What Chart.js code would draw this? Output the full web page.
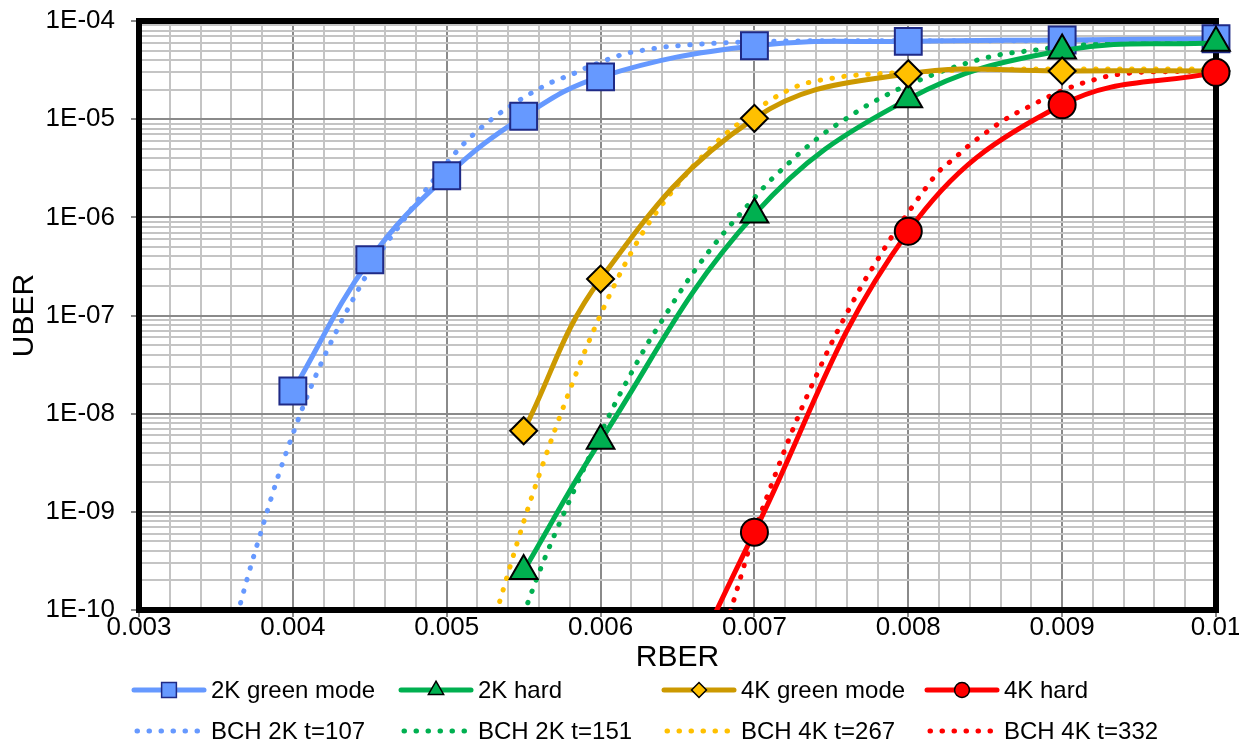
<!DOCTYPE html>
<html>
<head>
<meta charset="utf-8">
<title>UBER vs RBER</title>
<script src="https://cdn.jsdelivr.net/npm/chart.js@4.4.1/dist/chart.umd.min.js"></script>
<style>
    html, body { margin: 0; padding: 0; background: #fff; }
    #wrap { position: relative; width: 1239px; height: 745px; overflow: hidden; }
    #legend { position: absolute; left: 0; top: 0; width: 100%; height: 100%; pointer-events: none;
              font-family: "Liberation Sans", Arial, sans-serif; font-size: 24px; color: #000; }
    .item { position: absolute; display: flex; align-items: center; height: 28px; white-space: nowrap; }
    .item canvas { margin-right: 4px; }
</style>
</head>
<body>
<div id="wrap">
    <canvas id="uberChart" width="1239" height="745"></canvas>
    <div id="legend"></div>
</div>
<script>
// axis labels
const xTickLabels = ['0.003', '0.004', '0.005', '0.006', '0.007', '0.008', '0.009', '0.01'];
const yTickLabels = ['1E-10', '1E-09', '1E-08', '1E-07', '1E-06', '1E-05', '1E-04'];

// measured series (with markers)
const rberMeasured = [0.004, 0.0045, 0.005, 0.0055, 0.006, 0.007, 0.008, 0.009, 0.01];
const uber2kGreen = [1.7e-8, 3.7e-7, 2.65e-6, 1.07e-5, 2.7e-5, 5.6e-5, 6.2e-5, 6.4e-5, 6.6e-5];
const uber2kHard  = [null, null, null, 2.5e-10, 5.3e-9, 1.07e-6, 1.6e-5, 5.0e-5, 6.0e-5];
const uber4kGreen = [null, null, null, 6.7e-9, 2.35e-7, 1.02e-5, 2.9e-5, 3.1e-5, 3.1e-5];
const uber4kHard  = [null, null, null, null, 3e-13, 6.2e-10, 7.2e-7, 1.4e-5, 3.0e-5];

// BCH theoretical curves (dotted)
const rberBch107 = [0.0036, 0.0037, 0.0038, 0.0039, 0.004, 0.0041, 0.0042, 0.0043, 0.0044, 0.0045,
    0.0046, 0.0047, 0.0048, 0.0049, 0.005, 0.0051, 0.0052, 0.0053, 0.0054, 0.0055, 0.0056, 0.0057,
    0.0058, 0.0059, 0.006, 0.0061, 0.0062, 0.0063, 0.0064, 0.0065, 0.0066, 0.0068, 0.007, 0.0075,
    0.008, 0.009, 0.01];
const uberBch107 = [5.2e-11, 2.0e-10, 6.8e-10, 2.2e-9, 6.2e-9, 1.6e-8, 3.7e-8, 7.8e-8, 1.55e-7, 2.95e-7,
    5.2e-7, 8.5e-7, 1.41e-6, 2.24e-6, 3.55e-6, 5.4e-6, 7.6e-6, 1.02e-5, 1.32e-5, 1.66e-5, 2.04e-5, 2.45e-5,
    2.8e-5, 3.3e-5, 3.8e-5, 4.35e-5, 4.8e-5, 5.1e-5, 5.4e-5, 5.6e-5, 5.75e-5, 6.0e-5, 6.15e-5, 6.3e-5,
    6.3e-5, 6.3e-5, 6.3e-5];

const rberBch151 = [0.0055, 0.0056, 0.0057, 0.0058, 0.0059, 0.006, 0.0061, 0.0062, 0.0063, 0.0064,
    0.0065, 0.0066, 0.0067, 0.0068, 0.0069, 0.007, 0.0071, 0.0072, 0.0073, 0.0074, 0.0075, 0.0076,
    0.0077, 0.0078, 0.0079, 0.008, 0.0081, 0.0082, 0.0083, 0.0084, 0.0085, 0.0086, 0.0087, 0.0088,
    0.009, 0.0092, 0.0095, 0.01];
const uberBch151 = [9.1e-11, 2.4e-10, 5.8e-10, 1.32e-9, 2.95e-9, 6.3e-9, 1.32e-8, 2.6e-8, 5.0e-8, 8.9e-8,
    1.58e-7, 2.7e-7, 4.4e-7, 6.9e-7, 1.05e-6, 1.58e-6, 2.35e-6, 3.3e-6, 4.6e-6, 6.2e-6, 8.1e-6, 1.02e-5,
    1.29e-5, 1.58e-5, 1.9e-5, 2.25e-5, 2.6e-5, 3.0e-5, 3.4e-5, 3.8e-5, 4.2e-5, 4.55e-5, 4.8e-5, 5.0e-5,
    5.5e-5, 5.8e-5, 6.1e-5, 6.15e-5];

const rberBch267 = [0.0053, 0.0054, 0.0055, 0.0056, 0.0057, 0.0058, 0.0059, 0.006, 0.0061, 0.0062,
    0.0063, 0.0064, 0.0065, 0.0066, 0.0067, 0.0068, 0.0069, 0.007, 0.0071, 0.0072, 0.0073, 0.0074,
    0.0075, 0.0076, 0.0078, 0.008, 0.0085, 0.009, 0.01];
const uberBch267 = [7.1e-11, 2.4e-10, 7.9e-10, 2.35e-9, 6.6e-9, 1.74e-8, 4.4e-8, 1.02e-7, 2.2e-7, 4.4e-7,
    8.1e-7, 1.35e-6, 2.14e-6, 3.3e-6, 4.8e-6, 6.8e-6, 9.1e-6, 1.2e-5, 1.55e-5, 1.9e-5, 2.24e-5, 2.45e-5,
    2.6e-5, 2.75e-5, 2.9e-5, 3.0e-5, 3.2e-5, 3.25e-5, 3.25e-5];

const rberBch332 = [0.0068, 0.0069, 0.007, 0.0071, 0.0072, 0.0073, 0.0074, 0.0075, 0.0076, 0.0077,
    0.0078, 0.0079, 0.008, 0.0081, 0.0082, 0.0083, 0.0084, 0.0085, 0.0086, 0.0087, 0.0088, 0.0089,
    0.009, 0.0091, 0.0092, 0.0093, 0.0094, 0.0095, 0.0097, 0.01];
const uberBch332 = [5.6e-11, 1.9e-10, 6.3e-10, 1.7e-9, 4.4e-9, 1.07e-8, 2.4e-8, 5.2e-8, 1.05e-7, 2.05e-7,
    3.7e-7, 6.6e-7, 1.12e-6, 1.86e-6, 2.95e-6, 4.0e-6, 5.5e-6, 7.2e-6, 9.3e-6, 1.15e-5, 1.38e-5, 1.66e-5,
    1.95e-5, 2.24e-5, 2.5e-5, 2.75e-5, 2.9e-5, 3.0e-5, 3.05e-5, 3.1e-5];

const FONT = '"Liberation Sans", Arial, sans-serif';
const DOTS = [0.5, 11.5];

const toPoints = (xs, ys) => xs.map((x, i) => ({ x: x, y: ys[i] })).filter(p => p.y !== null);

function measuredSeries(label, ys, color, style, radius, fill, edge, order) {
    return {
        label: label,
        data: toPoints(rberMeasured, ys),
        borderColor: color,
        borderWidth: 5,
        tension: 0.4,
        pointStyle: style,
        pointRadius: radius,
        pointBackgroundColor: fill,
        pointBorderColor: edge,
        pointBorderWidth: 2,
        order: order
    };
}

function bchSeries(label, xs, ys, color, order) {
    return {
        label: label,
        data: toPoints(xs, ys),
        borderColor: color,
        borderWidth: 5,
        borderDash: DOTS,
        borderCapStyle: 'round',
        cubicInterpolationMode: 'monotone',
        pointRadius: 0,
        order: order
    };
}

const datasets = [
    measuredSeries('2K green mode', uber2kGreen, '#6699ff', 'rect', 19, '#6699ff', '#1f2a86', 4),
    measuredSeries('2K hard', uber2kHard, '#00b050', 'triangle', 16, '#00b050', '#000', 3),
    measuredSeries('4K green mode', uber4kGreen, '#cc9900', 'rectRot', 13.5, '#ffc000', '#000', 2),
    measuredSeries('4K hard', uber4kHard, '#ff0000', 'circle', 13.5, '#ff0000', '#000', 1),
    bchSeries('BCH 2K t=107', rberBch107, uberBch107, '#6699ff', 8),
    bchSeries('BCH 2K t=151', rberBch151, uberBch151, '#00b050', 7),
    bchSeries('BCH 4K t=267', rberBch267, uberBch267, '#ffc000', 6),
    bchSeries('BCH 4K t=332', rberBch332, uberBch332, '#ff0000', 5)
];
datasets.forEach(ds => { ds.clip = { left: 0, top: 20, right: 20, bottom: 0 }; });

const plotFrame = {
    id: 'plotFrame',
    beforeDatasetsDraw(chart) {
        const { ctx, chartArea: a } = chart;
        ctx.save();
        ctx.lineWidth = 6;
        ctx.strokeStyle = '#000';
        ctx.strokeRect(a.left, a.top, a.right - a.left, a.bottom - a.top);
        ctx.restore();
    }
};

const gridColor = ctx => (ctx.tick && ctx.tick.major) ? '#8a8a8a' : '#c4c4c4';
const tickColor = ctx => (ctx.tick && ctx.tick.major) ? '#8a8a8a' : 'rgba(0,0,0,0)';

const chart = new Chart(document.getElementById('uberChart'), {
    type: 'line',
    data: { datasets: datasets },
    plugins: [plotFrame],
    options: {
        responsive: false,
        animation: false,
        events: [],
        devicePixelRatio: 1,
        layout: { padding: { top: 17, right: 23, bottom: 69, left: 0 } },
        plugins: { legend: { display: false }, tooltip: { enabled: false } },
        scales: {
            x: {
                type: 'linear',
                min: 0.003,
                max: 0.01,
                afterBuildTicks: scale => {
                    const ticks = [];
                    for (let i = 0; i <= 35; i++) {
                        ticks.push({ value: Number((0.003 + i * 0.0002).toFixed(4)), major: i % 5 === 0 });
                    }
                    scale.ticks = ticks;
                },
                afterFit: scale => { scale.height = 66; },
                ticks: {
                    autoSkip: false,
                    maxRotation: 0,
                    padding: -5,
                    color: '#000',
                    font: { family: FONT, size: 26 },
                    callback: (value, index, ticks) =>
                        ticks[index].major ? xTickLabels[Math.round((value - 0.003) * 1000)] : ''
                },
                grid: { color: gridColor, lineWidth: 2, tickLength: 7, tickColor: tickColor },
                border: { display: false },
                title: { display: true, text: 'RBER', color: '#000', font: { family: FONT, size: 30 },
                         padding: { top: 0, bottom: 0 } }
            },
            y: {
                type: 'logarithmic',
                min: 1e-10,
                max: 1e-4,
                afterBuildTicks: scale => {
                    const ticks = [];
                    for (let e = -10; e <= -4; e++) {
                        for (let m = 1; m <= 9; m++) {
                            if (e === -4 && m > 1) break;
                            ticks.push({ value: Number(m + 'e' + e), major: m === 1 });
                        }
                    }
                    scale.ticks = ticks;
                },
                afterFit: scale => {
                    scale.width = 139;
                    scale.paddingTop = 0;
                    scale.paddingBottom = 0;
                },
                ticks: {
                    autoSkip: false,
                    padding: 16,
                    color: '#000',
                    font: { family: FONT, size: 26 },
                    callback: (value, index, ticks) =>
                        ticks[index].major ? yTickLabels[Math.round(Math.log10(value)) + 10] : ''
                },
                grid: { color: gridColor, lineWidth: 2, tickLength: 8, tickColor: tickColor },
                border: { display: false },
                title: { display: true, text: 'UBER', color: '#000', font: { family: FONT, size: 30 },
                         padding: { top: 7, bottom: 0 } }
            }
        }
    }
});

// legend: two rows of four, drawn from the datasets
const legendSlots = [[131, 690], [398, 690], [661, 690], [924, 690],
                     [131, 731], [398, 731], [661, 731], [924, 731]];

function drawSample(cv, ds) {
    const c = cv.getContext('2d');
    const mid = cv.height / 2;
    c.lineWidth = 5;
    c.strokeStyle = ds.borderColor;
    c.lineCap = 'round';
    c.beginPath();
    if (ds.borderDash) {
        c.setLineDash(ds.borderDash);
        c.moveTo(6, mid);
        c.lineTo(70, mid);
    } else {
        c.moveTo(3, mid);
        c.lineTo(73, mid);
    }
    c.stroke();
    if (ds.pointRadius > 0) {
        c.setLineDash([]);
        c.fillStyle = ds.pointBackgroundColor;
        c.strokeStyle = ds.pointBorderColor;
        c.lineWidth = 1.5;
        Chart.helpers.drawPoint(c, { pointStyle: ds.pointStyle, radius: ds.pointRadius * 0.55, borderWidth: 1.5 }, 38, mid);
    }
}

const legendBox = document.getElementById('legend');
chart.data.datasets.forEach((ds, i) => {
    const item = document.createElement('div');
    item.className = 'item';
    item.style.left = legendSlots[i][0] + 'px';
    item.style.top = (legendSlots[i][1] - 14) + 'px';
    const cv = document.createElement('canvas');
    cv.width = 76;
    cv.height = 28;
    drawSample(cv, ds);
    const txt = document.createElement('span');
    txt.textContent = ds.label;
    item.appendChild(cv);
    item.appendChild(txt);
    legendBox.appendChild(item);
});
</script>
</body>
</html>
